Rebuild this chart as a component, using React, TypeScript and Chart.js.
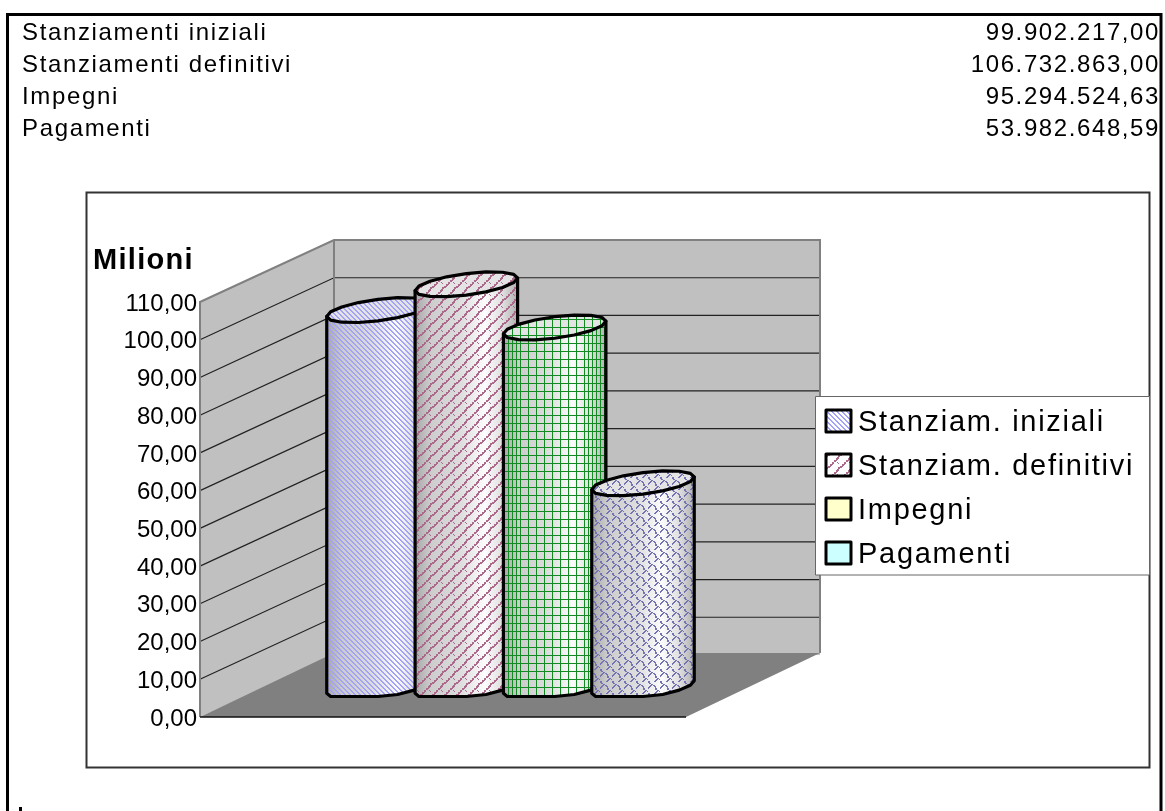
import React, { useEffect, useRef } from "react";
import { Chart, registerables } from "chart.js";

Chart.register(...registerables);

const categories = [""];
const seriesLabels = ["Stanziam. iniziali", "Stanziam. definitivi", "Impegni", "Pagamenti"];
const seriesValues = [99.902217, 106.732863, 95.29452463, 53.98264859];
const summaryLabels = ["Stanziamenti iniziali", "Stanziamenti definitivi", "Impegni", "Pagamenti"];
const summaryValues = ["99.902.217,00", "106.732.863,00", "95.294.524,63", "53.982.648,59"];
const axisTitle = "Milioni";

const WALL = "#c0c0c0";
const FLOOR = "#808080";
const EDGE = "#808080";
const FONT = '"Liberation Sans", Arial, sans-serif';
const DEPTH = { x: 134, y: -62 };
const FLOOR_DEPTH_Y = -64;
const BAR_OFFSET = { x: 67.5, y: -30 };
const RING = { x: 26, y: 12.5 };
const BASE_SAG = 9.5;
const TICK_NUDGE = 2;

// Pixel tiles for the hatched cylinder fills.
const TILE_STRIPES = ["##...", ".##..", "..##.", "...##", "#...#"];
const TILE_BRICK = [
  "..........##",
  ".........##.",
  "........###.",
  "........##..",
  "......###...",
  "......##....",
  "....##...#..",
  "....##....#.",
  "..###.......",
  "..##........",
  "###.........",
  "##........##",
];
const TILE_GRID = ["#.......", "#.......", "#.......", "#.......", "#.......", "#.......", "#.......", "########"];
const TILE_GRID_EDGE = ["#...", "#...", "#...", "#...", "#...", "#...", "#...", "####"];
const TILE_SCALE = [
  "...##.......",
  "..##.##.....",
  ".##...##....",
  "##.....#....",
  "#......##...",
  ".......##...",
  ".........##.",
  "........##.#",
  ".......##...",
  "##....##....",
  "##..........",
  ".##.........",
];
const hatchTiles = [TILE_STRIPES, TILE_BRICK, TILE_GRID, TILE_SCALE];
const hatchColors = ["#a2a2f8", "#ab6a8c", "#128a22", "#7474b4"];
const legendFills = ["", "", "#ffffcc", "#ccffff"];

function makePattern(ctx: CanvasRenderingContext2D, rows: string[], color: string) {
  const tile = document.createElement("canvas");
  tile.width = rows[0].length;
  tile.height = rows.length;
  const t = tile.getContext("2d")!;
  t.fillStyle = color;
  rows.forEach((row, y) => {
    [...row].forEach((c, x) => {
      if (c === "#") t.fillRect(x, y, 1, 1);
    });
  });
  return ctx.createPattern(tile, "repeat")!;
}

function ringPoint(cx: number, cy: number, u: number, t: number) {
  return { x: cx + u * Math.cos(t) + RING.x * Math.sin(t), y: cy - RING.y * Math.sin(t) };
}

function drawCylinder(
  ctx: CanvasRenderingContext2D,
  bar: any,
  pattern: CanvasPattern,
  edgePattern?: CanvasPattern
) {
  const cx = bar.x + BAR_OFFSET.x;
  const topY = bar.y + BAR_OFFSET.y;
  const baseY = bar.base + BAR_OFFSET.y;
  const u = bar.width / 2;
  const t0 = Math.atan2(RING.x, u);
  const steps = 8;

  const body = new Path2D();
  const start = ringPoint(cx, topY, u, t0 - Math.PI);
  body.moveTo(start.x, start.y);
  for (let i = 0; i <= steps; i++) {
    const p = ringPoint(cx, baseY, u, t0 - Math.PI + (Math.PI * i) / steps);
    body.lineTo(p.x, Math.min(p.y, baseY + BASE_SAG));
  }
  const end = ringPoint(cx, topY, u, t0);
  body.lineTo(end.x, end.y);
  body.closePath();

  const halfWidth = Math.hypot(u, RING.x);
  const shade = ctx.createLinearGradient(cx - halfWidth, 0, cx + halfWidth, 0);
  shade.addColorStop(0, "#a8a8a8");
  shade.addColorStop(0.15, "#cccccc");
  shade.addColorStop(0.45, "#dedede");
  shade.addColorStop(0.68, "#fcfcfc");
  shade.addColorStop(0.85, "#e0e0e0");
  shade.addColorStop(1, "#b0b0b0");
  ctx.fillStyle = shade;
  ctx.fill(body);
  ctx.fillStyle = pattern;
  ctx.fill(body);

  // Foreshortened hatch toward the silhouette edges.
  if (edgePattern) {
    ctx.save();
    ctx.clip(body);
    ctx.fillStyle = edgePattern;
    ctx.fillRect(cx - halfWidth, topY, halfWidth * 0.35, baseY - topY + RING.y);
    ctx.fillRect(cx + halfWidth * 0.65, topY, halfWidth * 0.35, baseY - topY + RING.y);
    ctx.restore();
  }

  ctx.lineWidth = 3.2;
  ctx.lineJoin = "round";
  ctx.strokeStyle = "#000";
  ctx.stroke(body);

  const cap = new Path2D();
  for (let i = 0; i < steps * 2; i++) {
    const p = ringPoint(cx, topY, u, t0 - Math.PI + (Math.PI * i) / steps);
    if (i === 0) cap.moveTo(p.x, p.y);
    else cap.lineTo(p.x, p.y);
  }
  cap.closePath();
  ctx.fillStyle = "#e4e4e4";
  ctx.fill(cap);
  ctx.fillStyle = pattern;
  ctx.fill(cap);
  ctx.stroke(cap);
}

function spacedText(
  ctx: CanvasRenderingContext2D,
  text: string,
  x: number,
  y: number,
  font: string,
  spacing: number,
  align: CanvasTextAlign = "left"
) {
  ctx.font = font;
  ctx.letterSpacing = `${spacing}px`;
  ctx.textAlign = align;
  ctx.textBaseline = "middle";
  ctx.fillStyle = "#000";
  ctx.fillText(text, x, y);
  ctx.letterSpacing = "0px";
}

const pagePlugin = {
  id: "pageFrame",
  beforeDraw(chart: any) {
    const ctx: CanvasRenderingContext2D = chart.ctx;
    ctx.save();
    ctx.fillStyle = "#fff";
    ctx.fillRect(0, 0, chart.width, chart.height);

    // Sheet border, open at the bottom.
    ctx.strokeStyle = "#000";
    ctx.lineWidth = 3;
    ctx.beginPath();
    ctx.moveTo(7.5, 811);
    ctx.lineTo(7.5, 14.5);
    ctx.lineTo(1161, 14.5);
    ctx.lineTo(1161, 811);
    ctx.stroke();
    ctx.fillStyle = "#000";
    ctx.fillRect(19, 807, 3, 4);

    summaryLabels.forEach((label, i) => {
      const y = 33 + i * 32;
      spacedText(ctx, label, 22, y, `24px ${FONT}`, 1.65);
      spacedText(ctx, summaryValues[i], 1160, y, `24px ${FONT}`, 1.6, "right");
    });

    // Chart frame.
    ctx.strokeStyle = "#333";
    ctx.lineWidth = 2;
    ctx.strokeRect(86.5, 192.5, 1063, 575);

    spacedText(ctx, axisTitle, 93, 261, `bold 29px ${FONT}`, 1.3);
    ctx.restore();
    // The axis labels sit slightly below their tick positions.
    ctx.translate(0, TICK_NUDGE);
  },
  beforeDatasetsDraw(chart: any) {
    const ctx: CanvasRenderingContext2D = chart.ctx;
    ctx.translate(0, -TICK_NUDGE);
    const { left, right, top, bottom } = chart.chartArea;
    const y = chart.scales.y;
    const dx = DEPTH.x;
    const dy = DEPTH.y;
    ctx.save();

    // Back wall, side wall and floor of the 3D box.
    ctx.fillStyle = WALL;
    ctx.fillRect(left + dx, top + dy, right - left, bottom - top);
    ctx.beginPath();
    ctx.moveTo(left, top);
    ctx.lineTo(left + dx, top + dy);
    ctx.lineTo(left + dx, bottom + dy);
    ctx.lineTo(left, bottom);
    ctx.closePath();
    ctx.fill();
    ctx.fillStyle = FLOOR;
    ctx.beginPath();
    ctx.moveTo(left, bottom);
    ctx.lineTo(right, bottom);
    ctx.lineTo(right + dx, bottom + FLOOR_DEPTH_Y);
    ctx.lineTo(left + dx, bottom + FLOOR_DEPTH_Y);
    ctx.closePath();
    ctx.fill();

    // Value gridlines run along the side wall and across the back.
    ctx.lineWidth = 1.2;
    ctx.strokeStyle = "#222";
    y.ticks.forEach((tick: any) => {
      if (tick.value === 0 || tick.value === y.max) return;
      const py = y.getPixelForValue(tick.value);
      ctx.beginPath();
      ctx.moveTo(left, py);
      ctx.lineTo(left + dx, py + dy);
      ctx.lineTo(right + dx, py + dy);
      ctx.stroke();
    });

    ctx.strokeStyle = EDGE;
    ctx.lineWidth = 2;
    ctx.beginPath();
    ctx.moveTo(left, bottom);
    ctx.lineTo(left, top);
    ctx.lineTo(left + dx, top + dy);
    ctx.lineTo(right + dx, top + dy);
    ctx.lineTo(right + dx, bottom + FLOOR_DEPTH_Y);
    ctx.moveTo(left + dx, top + dy);
    ctx.lineTo(left + dx, bottom + FLOOR_DEPTH_Y);
    ctx.stroke();
    ctx.strokeStyle = "#111";
    ctx.lineWidth = 1.5;
    ctx.beginPath();
    ctx.moveTo(left, bottom);
    ctx.lineTo(right, bottom);
    ctx.stroke();

    // Cylinders, back to front in series order.
    chart.data.datasets.forEach((_: any, i: number) => {
      const bar = chart.getDatasetMeta(i).data[0];
      const edge = hatchTiles[i] === TILE_GRID ? makePattern(ctx, TILE_GRID_EDGE, hatchColors[i]) : undefined;
      drawCylinder(ctx, bar, makePattern(ctx, hatchTiles[i], hatchColors[i]), edge);
    });

    // Legend box sits over the right side of the plot.
    ctx.fillStyle = "#fff";
    ctx.fillRect(815, 396.5, 335, 178.5);
    ctx.strokeStyle = "#666";
    ctx.lineWidth = 1;
    ctx.strokeRect(815.5, 396.5, 334, 178.5);
    chart.data.datasets.forEach((ds: any, i: number) => {
      const rowY = 421 + i * 44;
      ctx.fillStyle = legendFills[i] || "#fff";
      ctx.fillRect(826, rowY - 11, 25, 22);
      if (!legendFills[i]) {
        ctx.fillStyle = makePattern(ctx, hatchTiles[i], hatchColors[i]);
        ctx.fillRect(826, rowY - 11, 25, 22);
      }
      ctx.strokeStyle = "#000";
      ctx.lineWidth = 3;
      ctx.strokeRect(826, rowY - 11, 25, 22);
      spacedText(ctx, ds.label, 858, rowY + 1.5, `29px ${FONT}`, 1.72);
    });

    ctx.restore();
    // Native flat bars are replaced by the cylinders above.
    return false;
  },
};

export default function App() {
  const ref = useRef<HTMLCanvasElement>(null);

  useEffect(() => {
    document.body.style.margin = "0";
    const chart = new Chart(ref.current!, {
      type: "bar",
      data: {
        labels: categories,
        datasets: seriesLabels.map((label, i) => ({
          label,
          data: [seriesValues[i]],
          backgroundColor: hatchColors[i],
          categoryPercentage: 0.727,
          barPercentage: 1,
        })),
      },
      options: {
        responsive: false,
        animation: false,
        layout: { padding: { left: 0, right: 479, top: 302, bottom: 94 } },
        plugins: { legend: { display: false }, title: { display: false }, tooltip: { enabled: false } },
        scales: {
          x: { display: false },
          y: {
            min: 0,
            max: 110,
            afterFit(scale: any) {
              scale.width = 200;
            },
            grid: { display: false, drawTicks: false },
            border: { display: false },
            ticks: {
              stepSize: 10,
              autoSkip: false,
              padding: 3,
              color: "#000",
              font: { family: "Liberation Sans", size: 24 },
              callback: (v: any) => Number(v).toFixed(2).replace(".", ","),
            },
          },
        },
      },
      plugins: [pagePlugin],
    } as any);
    return () => chart.destroy();
  }, []);

  return <canvas ref={ref} width={1165} height={811} style={{ display: "block" }} />;
}
